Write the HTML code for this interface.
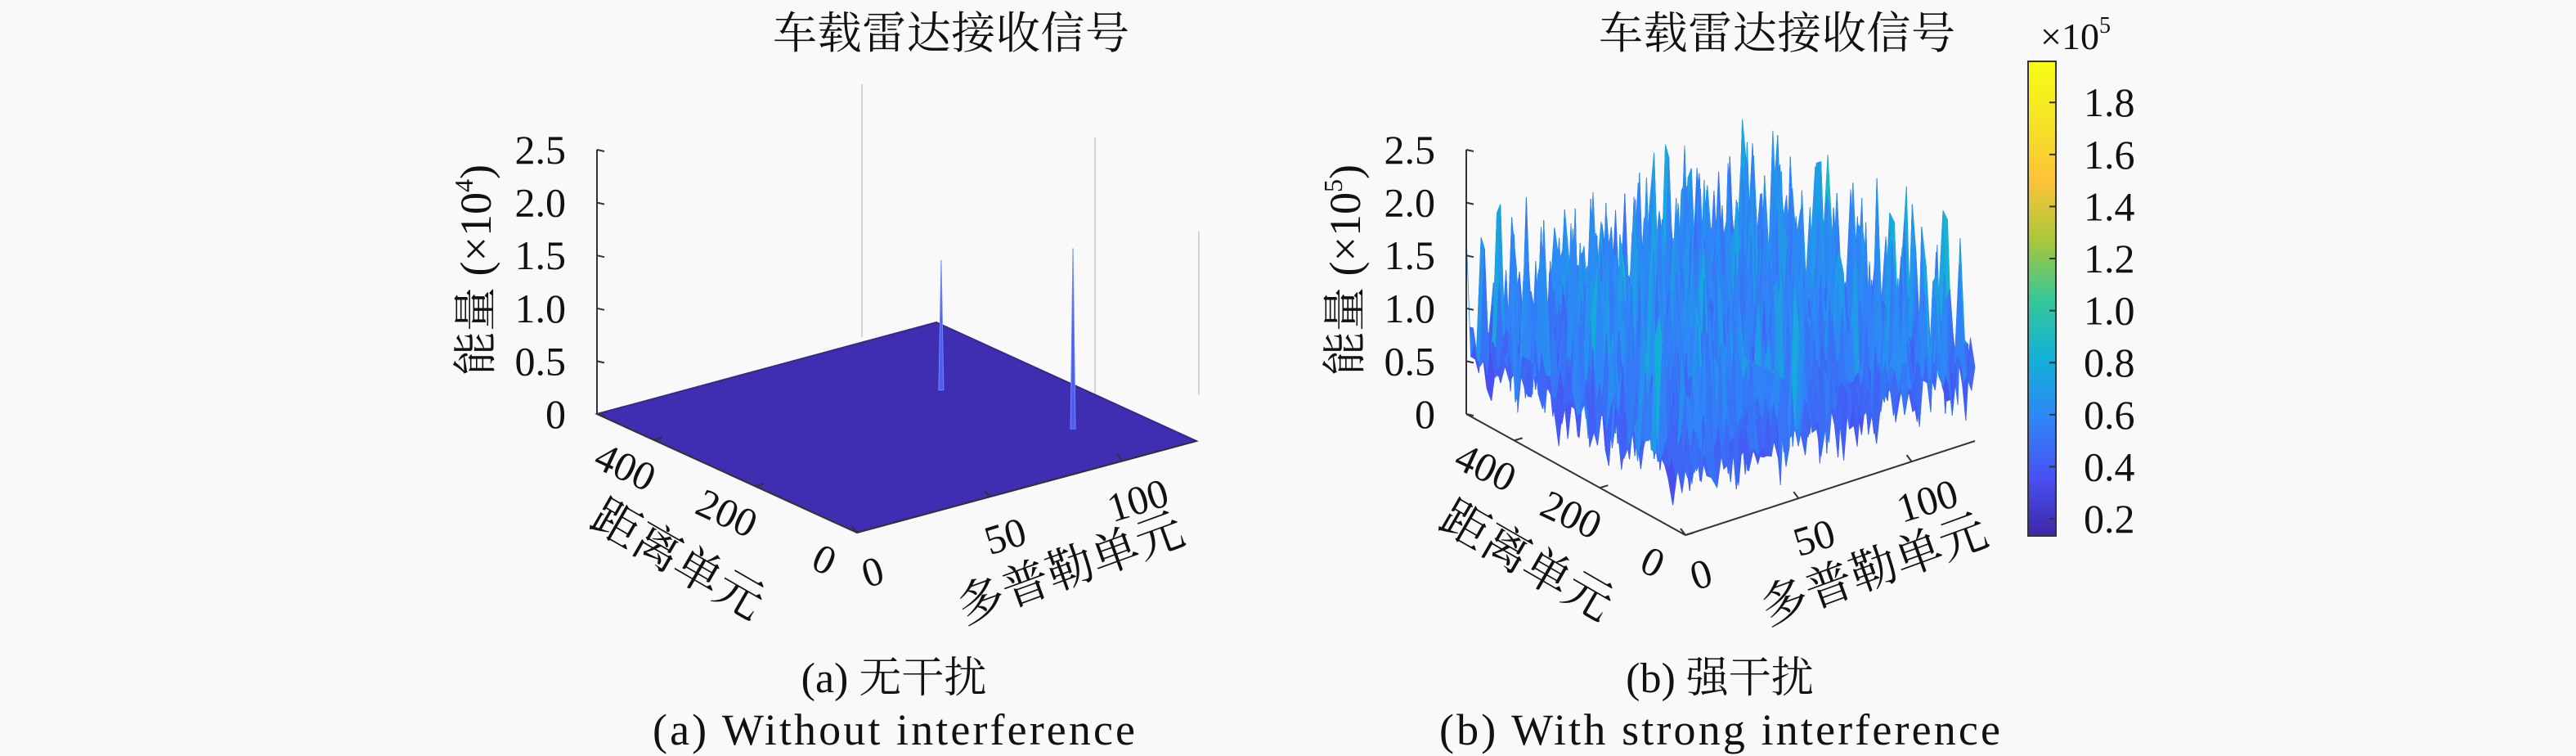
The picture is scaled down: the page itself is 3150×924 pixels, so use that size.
<!DOCTYPE html>
<html><head><meta charset="utf-8">
<style>
html,body{margin:0;padding:0;background:#f9f9f9;}
svg{display:block;}
.t{font-family:"Liberation Serif","Noto Serif CJK SC",serif;fill:#111;}
</style></head>
<body>
<svg id="fig" width="3150" height="924" viewBox="0 0 3150 924" xmlns="http://www.w3.org/2000/svg">
<rect width="3150" height="924" fill="#f9f9f9"/>
<defs>
<linearGradient id="parula" x1="0" y1="1" x2="0" y2="0">
<stop offset="0" stop-color="#3e26a8"/><stop offset="0.125" stop-color="#4852f4"/>
<stop offset="0.25" stop-color="#2e87f7"/><stop offset="0.375" stop-color="#12b1d6"/>
<stop offset="0.5" stop-color="#37c897"/><stop offset="0.625" stop-color="#abc739"/>
<stop offset="0.75" stop-color="#fec338"/><stop offset="0.875" stop-color="#f5e426"/>
<stop offset="1" stop-color="#f9fb14"/></linearGradient>
</defs>
<g id="left"></g>
<g id="right"></g>
<g id="cbar"></g>
</svg>
<script>
// ---- data ----
const zTicksA = [0, 0.5, 1.0, 1.5, 2.0, 2.5];
const zTickLabels = ["0", "0.5", "1.0", "1.5", "2.0", "2.5"];
const rangeTicks = [0, 200, 400];
const dopplerTicks = [0, 50, 100];
const spikeDoppler = [94, 105];
const spikeRange = [325, 123];
const spikeHeight = [1.23, 1.71]; // x10^4
const cbarTicks = [0.2, 0.4, 0.6, 0.8, 1.0, 1.2, 1.4, 1.6, 1.8];
const noise = [0.62,0.81,0.55,1.34,0.70,0.48,0.92,0.66,0.25,0.77,1.62,0.58,0.73,0.84,0.41,0.69,1.05,0.52,0.88,0.63,0.31,0.75,1.88,0.60,0.79,0.47,0.95,0.67,0.56,1.21,0.72,0.38,0.83,0.64,0.59,1.47,0.71,0.50,0.86,0.22,0.68,0.99,0.57,0.76,1.71,0.61,0.45,0.90,0.65,0.53,1.12,0.74,0.35,0.80,0.62,2.05,0.58,0.70,0.44,0.87,0.66,1.29,0.54,0.78,0.28,0.73,0.97,0.60,0.49,1.55,0.69,0.82,0.57,0.40,0.91,0.63,1.38,0.75,0.52,0.85,0.18,0.67,1.02,0.59,0.72,1.66,0.46,0.80,0.64,0.55,1.16,0.71,0.33,0.89,0.61,1.95,0.68];

const NS = "http://www.w3.org/2000/svg";
function mk(parent, tag, attrs, text){
  const e = document.createElementNS(NS, tag);
  for (const k in attrs) e.setAttribute(k, attrs[k]);
  if (text !== undefined) e.textContent = text;
  parent.appendChild(e);
  return e;
}
const stops = [[0,[62,38,168]],[0.125,[72,82,244]],[0.25,[46,135,247]],[0.375,[18,177,214]],[0.5,[55,200,151]],[0.625,[171,199,57]],[0.75,[254,195,56]],[0.875,[245,228,38]],[1,[249,251,20]]];
function parula(t){
  t = Math.max(0, Math.min(1, t));
  for (let i = 1; i < stops.length; i++){
    if (t <= stops[i][0]){
      const a = stops[i-1], b = stops[i], f = (t - a[0]) / (b[0] - a[0]);
      const c = a[1].map((v, k) => Math.round(v + (b[1][k] - v) * f));
      return "rgb(" + c.join(",") + ")";
    }
  }
  return "rgb(249,251,20)";
}

function makeAxes(O, R, D){
  return (d, r) => [O[0] + (D[0]-O[0])*d/128 + (R[0]-O[0])*r/512,
                    O[1] + (D[1]-O[1])*d/128 + (R[1]-O[1])*r/512];
}

function drawFrame(g, proj, zPer, subtitle, caption, capX, expo){
  const base = proj(0,512,0);
  let e;
  e = mk(g, "line", {x1:base[0], y1:base[1], x2:base[0], y2:base[1]-2.5*zPer, stroke:"#333", "stroke-width":2});
  
  
  zTicksA.forEach((v, i) => {
    const y = base[1] - v*zPer;
    let tk = mk(g, "line", {x1:base[0], y1:y, x2:base[0]+9, y2:y+2, stroke:"#333", "stroke-width":2});
    
    
    let tl = mk(g, "text", {x:base[0]-38, y:y+17, "text-anchor":"end", "font-size":50, class:"t"}, zTickLabels[i]);
    
    
  });
  const o = proj(0,0,0), d1 = proj(128,0,0);
  e = mk(g, "polyline", {points:[base, o, d1].map(p => p.join(",")).join(" "), fill:"none", stroke:"#333", "stroke-width":2});
  
  
  rangeTicks.forEach(v => {
    const p = proj(0, v, 0);
    let tk = mk(g, "line", {x1:p[0], y1:p[1], x2:p[0]+10, y2:p[1]-3, stroke:"#333", "stroke-width":2});
    
    
    const lx = p[0] - 42 + (v===0?-5:0), ly = p[1] + 48;
    let tl = mk(g, "text", {x:lx, y:ly, "text-anchor":"middle", "font-size":50, class:"t", transform:"rotate(25 "+lx+" "+ly+")"}, String(v));
    
    
  });
  dopplerTicks.forEach(v => {
    const p = proj(v, 0, 0);
    let tk = mk(g, "line", {x1:p[0], y1:p[1], x2:p[0]-6, y2:p[1]-8, stroke:"#333", "stroke-width":2});
    
    
    const lx = p[0] + 24, ly = p[1] + 64;
    let tl = mk(g, "text", {x:lx, y:ly, "text-anchor":"middle", "font-size":50, class:"t", transform:"rotate(-17 "+lx+" "+ly+")"}, String(v));
    
    
  });
  const rp = proj(0, 256, 0);
  const rx = rp[0] - 70, ry = rp[1] + 122;
  e = mk(g, "text", {x:rx, y:ry, "text-anchor":"middle", "font-size":58, class:"t", transform:"rotate(30 "+rx+" "+ry+")"}, "距离单元");
  
  
  const dp = proj(64, 0, 0);
  const dx = dp[0] + 60, dy = dp[1] + 118;
  e = mk(g, "text", {x:dx, y:dy, "text-anchor":"middle", "font-size":58, class:"t", transform:"rotate(-20 "+dx+" "+dy+")"}, "多普勒单元");
  
  
  const zx = base[0] - 148, zy = 330;
  e = mk(g, "text", {x:zx, y:zy+18, "text-anchor":"middle", "font-size":54, class:"t", transform:"rotate(-90 "+zx+" "+zy+")"});
  
  
  mk(e, "tspan", {}, "能量 (×10");
  mk(e, "tspan", {"font-size":32, dy:-22}, expo);
  mk(e, "tspan", {dy:22}, ")");
  e = mk(g, "text", {x:capX+70, y:59, "text-anchor":"middle", "font-size":54, class:"t", textLength:436}, "车载雷达接收信号");
  
  
  e = mk(g, "text", {x:capX, y:846, "text-anchor":"middle", "font-size":52, class:"t"}, subtitle);
  
  
  e = mk(g, "text", {x:capX, y:910, "text-anchor":"middle", "font-size":54, class:"t", textLength:caption[1]}, caption[0]);
  
  
}

// ---- left chart ----
const gL = document.getElementById("left");
const zPerA = 129.2; // px per 1x10^4
const projA = makeAxes([1048,651], [730,506], [1463,539]);
const projAz = (d, r, z) => { const p = projA(d, r); return [p[0], p[1] - z*zPerA]; };
[[1054,103,412],[1339,168,554],[1466,283,483]].forEach(l => {
  let e = mk(gL, "line", {x1:l[0], y1:l[1], x2:l[0], y2:l[2], stroke:"#d4d4d8", "stroke-width":2});
  
  
});
{
  const c = [projAz(0,0,0), projAz(128,0,0), projAz(128,512,0), projAz(0,512,0)];
  let e = mk(gL, "polygon", {points:c.map(p => p.join(",")).join(" "), fill:"#3f2db2", stroke:"#352a87", "stroke-width":2});
  
  
}
spikeHeight.forEach((h, i) => {
  const b = projAz(spikeDoppler[i], spikeRange[i], 0), t = projAz(spikeDoppler[i], spikeRange[i], h);
  let e = mk(gL, "polygon", {points:[[b[0]-3,b[1]],[t[0],t[1]],[b[0]+3,b[1]]].map(p => p.join(",")).join(" "), fill:"#4a5ef0", stroke:"#6f86ff", "stroke-width":1});
  
  
});
drawFrame(gL, projAz, zPerA, "(a) 无干扰", ["(a) Without interference", 590], 1093, "4");

// ---- right chart ----
const gR = document.getElementById("right");
const zPerB = 129.2; // px per 1x10^5
const projB0 = makeAxes([2061,654], [1793,506], [2415,539]);
const projB = (d, r, z) => { const p = projB0(d, r); return [p[0], p[1] - z*zPerB]; };
const cmin = 0.134, cmax = 1.958;
const N = 64;
const val = (i, j) => noise[(i*i*7 + j*31 + i*j*3) % noise.length];
const quads = [];
for (let i = 0; i < N; i++) for (let j = 0; j < N; j++) quads.push([i, j]);
quads.sort((a, b) => (b[0] + b[1]) - (a[0] + a[1]));
const surf = mk(gR, "g", {});


quads.forEach(q => {
  const [i, j] = q, sd = 128/N, sr = 512/N;
  const v = [val(i,j), val(i+1,j), val(i+1,j+1), val(i,j+1)];
  const pts = [projB(i*sd, j*sr, v[0]), projB((i+1)*sd, j*sr, v[1]), projB((i+1)*sd, (j+1)*sr, v[2]), projB(i*sd, (j+1)*sr, v[3])];
  const m = (v[0]+v[1]+v[2]+v[3]) / 4;
  const cval = 0.15 + m * 0.45;
  const col = parula((cval - cmin) / (cmax - cmin));
  let e = mk(surf, "polygon", {points:pts.map(p => p[0].toFixed(1)+","+p[1].toFixed(1)).join(" "), fill:col, stroke:col, "stroke-width":0.8});
  
  
});
drawFrame(gR, projB, zPerB, "(b) 强干扰", ["(b) With strong interference", 686], 2103, "5");

// ---- colorbar ----
const gC = document.getElementById("cbar");
{
  let e = mk(gC, "rect", {x:2480, y:75, width:34, height:580, fill:"url(#parula)", stroke:"#333", "stroke-width":2});
  
  
  const cy = v => 75 + (cmax - v) / (cmax - cmin) * 580;
  cbarTicks.forEach(v => {
    let tk = mk(gC, "line", {x1:2506, y1:cy(v), x2:2514, y2:cy(v), stroke:"#333", "stroke-width":2});
    
    
    let tl = mk(gC, "text", {x:2548, y:cy(v)+17, "font-size":50, class:"t"}, v.toFixed(1));
    
    
  });
  let ex = mk(gC, "text", {x:2495, y:60, "font-size":46, class:"t"});
  
  
  mk(ex, "tspan", {}, "×10");
  mk(ex, "tspan", {"font-size":28, dy:-20}, "5");
}
</script>
</body></html>
